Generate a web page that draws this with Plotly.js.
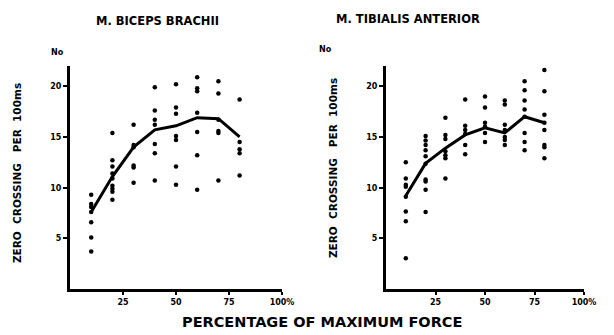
<!DOCTYPE html>
<html>
<head>
<meta charset="utf-8">
<script src="https://cdn.plot.ly/plotly-3.0.1.min.js"></script>
<style>html,body{margin:0;padding:0;background:#fff;}#chart{width:614px;height:335px;}</style>
</head>
<body>
<div id="chart"></div>
<script>
// % of maximum force levels
var forceLevels = [10, 20, 30, 40, 50, 60, 70, 80];

// M. biceps brachii: mean curve and individual values per force level
var bicepsMean = [7.6, 11.1, 14.0, 15.7, 16.1, 16.9, 16.8, 15.0];
var bicepsDots = [
  [9.3, 8.4, 8.1, 7.6, 6.6, 5.1, 3.7],
  [15.4, 12.7, 12.1, 11.4, 10.9, 10.2, 9.9, 9.6, 8.8],
  [16.2, 14.2, 14.0, 12.2, 12.0, 10.5],
  [19.9, 17.6, 16.7, 16.2, 14.3, 13.4, 10.7],
  [20.2, 17.9, 17.3, 15.1, 14.7, 12.1, 10.3],
  [20.9, 19.8, 19.5, 17.4, 15.5, 13.2, 9.8],
  [20.5, 19.3, 16.7, 15.6, 15.4, 10.7],
  [18.7, 14.5, 13.8, 13.4, 11.2]
];

// M. tibialis anterior
var tibialisMean = [9.2, 12.4, 13.9, 15.2, 15.9, 15.4, 17.0, 16.4];
var tibialisDots = [
  [12.5, 10.9, 10.3, 10.1, 9.1, 7.65, 6.7, 3.05],
  [15.1, 14.65, 14.2, 13.7, 13.1, 12.35, 10.8, 10.6, 9.8, 7.6],
  [16.9, 15.2, 14.8, 13.6, 13.2, 12.9, 10.9],
  [18.7, 16.1, 15.7, 15.3, 14.2, 13.3],
  [19.0, 17.9, 16.4, 16.0, 15.4, 14.5],
  [18.6, 18.2, 16.2, 15.7, 15.0, 14.7, 14.2],
  [20.5, 19.6, 18.6, 17.7, 17.0, 15.4, 14.5, 13.7],
  [21.6, 19.5, 17.2, 16.4, 15.7, 14.2, 14.0, 12.9]
];

var xTickVals = [25, 50, 75, 100];
var xTickText = ['25', '50', '75', '100%'];
var yTickVals = [5, 10, 15, 20];
var yTickText = ['5', '10', '15', '20'];

var titleLeft = 'M. BICEPS BRACHII';
var titleRight = 'M. TIBIALIS ANTERIOR';
var yTitle = 'ZERO\u00a0\u00a0CROSSING\u00a0\u00a0\u00a0PER\u00a0\u00a0100ms';
var xTitle = 'PERCENTAGE OF MAXIMUM FORCE';
var unitLabel = 'No';

function flatten(dots) {
  var xs = [], ys = [];
  dots.forEach(function (col, i) {
    col.forEach(function (v) { xs.push(forceLevels[i]); ys.push(v); });
  });
  return {x: xs, y: ys};
}

var bd = flatten(bicepsDots), td = flatten(tibialisDots);
var FONT = 'DejaVu Sans';

var traces = [
  {x: bd.x, y: bd.y, xaxis: 'x', yaxis: 'y', mode: 'markers', type: 'scatter',
   marker: {color: '#000', size: 4.5}, hoverinfo: 'skip'},
  {x: forceLevels, y: bicepsMean, xaxis: 'x', yaxis: 'y', mode: 'lines', type: 'scatter',
   line: {color: '#000', width: 3}},
  {x: td.x, y: td.y, xaxis: 'x2', yaxis: 'y2', mode: 'markers', type: 'scatter',
   marker: {color: '#000', size: 4.5}, hoverinfo: 'skip'},
  {x: forceLevels, y: tibialisMean, xaxis: 'x2', yaxis: 'y2', mode: 'lines', type: 'scatter',
   line: {color: '#000', width: 3}}
];

function xAxis(dom, anchor) {
  return {domain: dom, anchor: anchor, range: [0, 100], showgrid: false, zeroline: false,
    showline: true, linecolor: '#000', linewidth: 3, ticks: 'outside', ticklen: 3,
    tickwidth: 2, tickcolor: '#000', tickvals: xTickVals, ticktext: xTickText,
    tickfont: {family: FONT, size: 8, color: '#000', weight: 'bold'}, fixedrange: true};
}
function yAxis(anchor) {
  return {domain: [0.137, 0.803], anchor: anchor, range: [0, 22], showgrid: false, zeroline: false,
    showline: true, linecolor: '#000', linewidth: 3, ticks: 'outside', ticklen: 4,
    tickwidth: 2, tickcolor: '#000', tickvals: yTickVals, ticktext: yTickText,
    tickfont: {family: FONT, size: 8, color: '#000', weight: 'bold'}, fixedrange: true};
}

var bold = function (s) { return {family: FONT, size: s, color: '#000', weight: 'bold'}; };

var layout = {
  width: 614, height: 335,
  margin: {l: 0, r: 0, t: 0, b: 0},
  paper_bgcolor: '#fff', plot_bgcolor: '#fff',
  showlegend: false,
  xaxis: xAxis([70 / 614, 282 / 614], 'y'),
  yaxis: yAxis('x'),
  xaxis2: xAxis([386 / 614, 584 / 614], 'y2'),
  yaxis2: yAxis('x2'),
  annotations: [
    {text: titleLeft, xref: 'paper', yref: 'paper', x: 157 / 614, y: 1 - 21 / 335,
     showarrow: false, font: bold(11.5), xanchor: 'center', yanchor: 'middle'},
    {text: titleRight, xref: 'paper', yref: 'paper', x: 408 / 614, y: 1 - 19 / 335,
     showarrow: false, font: bold(11.5), xanchor: 'center', yanchor: 'middle'},
    {text: unitLabel, xref: 'paper', yref: 'paper', x: 57 / 614, y: 1 - 52 / 335,
     showarrow: false, font: bold(8), xanchor: 'center', yanchor: 'middle'},
    {text: unitLabel, xref: 'paper', yref: 'paper', x: 325 / 614, y: 1 - 50 / 335,
     showarrow: false, font: bold(8), xanchor: 'center', yanchor: 'middle'},
    {text: yTitle, xref: 'paper', yref: 'paper', x: 17 / 614, y: 1 - 173 / 335,
     showarrow: false, font: bold(10.5), textangle: -90, xanchor: 'center', yanchor: 'middle'},
    {text: yTitle, xref: 'paper', yref: 'paper', x: 333 / 614, y: 1 - 168 / 335,
     showarrow: false, font: bold(10.5), textangle: -90, xanchor: 'center', yanchor: 'middle'},
    {text: xTitle, xref: 'paper', yref: 'paper', x: 322 / 614, y: 1 - 322 / 335,
     showarrow: false, font: bold(14.5), xanchor: 'center', yanchor: 'middle'}
  ]
};

Plotly.newPlot('chart', traces, layout, {staticPlot: true, displayModeBar: false});
</script>
</body>
</html>
